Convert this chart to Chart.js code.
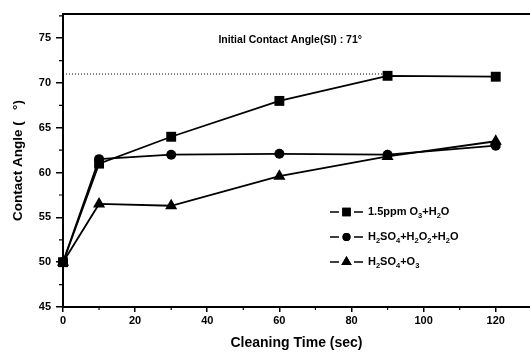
<!DOCTYPE html>
<html lang="en">
<head>
  <meta charset="UTF-8" />
  <title>Contact Angle vs Cleaning Time</title>
  <script src="https://cdn.jsdelivr.net/npm/chart.js"></script>
  <style>
    html, body { margin: 0; padding: 0; background: #fff; }
    #wrap { width: 530px; height: 356px; position: relative; }
  </style>
</head>
<body>
<div id="wrap"><canvas id="angleChart" width="530" height="356"></canvas></div>
<script>
// cleaning time (sec)
const times = [0, 10, 30, 60, 90, 120];
const ozoneWater = [50, 61, 64, 68, 70.8, 70.7];
const piranha = [50, 61.5, 62, 62.1, 62, 63];
const sulfuricOzone = [50, 56.5, 56.3, 59.6, 61.8, 63.5];
// initial contact angle reference line
const refX = [0, 90];
const refY = [71, 71];

const xTicks = [0, 20, 40, 60, 80, 100, 120];
const yTicks = [45, 50, 55, 60, 65, 70, 75];
const xMinor = [10, 30, 50, 70, 90, 110];
const yMinor = [47.5, 52.5, 57.5, 62.5, 67.5, 72.5, 77.5];

const note = "Initial Contact Angle(SI) : 71°";
// legend texts, split into normal / subscript pieces
const legendLabels = [
  [["1.5ppm O", 0], ["3", 1], ["+H", 0], ["2", 1], ["O", 0]],
  [["H", 0], ["2", 1], ["SO", 0], ["4", 1], ["+H", 0], ["2", 1], ["O", 0], ["2", 1], ["+H", 0], ["2", 1], ["O", 0]],
  [["H", 0], ["2", 1], ["SO", 0], ["4", 1], ["+O", 0], ["3", 1]]
];
const legendMarkers = ["rect", "circle", "triangle"];
const markerSizes = [7, 5, 7];

const FONT = "'Liberation Sans', Arial, sans-serif";
const pts = ys => times.map((t, i) => ({ x: t, y: ys[i] }));

const extras = {
  id: "extras",
  afterDraw(chart) {
    const ctx = chart.ctx, a = chart.chartArea;
    const xs = chart.scales.x, ys = chart.scales.y;
    ctx.save();
    ctx.strokeStyle = "#000";
    // top frame line
    ctx.lineWidth = 2;
    ctx.beginPath();
    ctx.moveTo(a.left, a.top);
    ctx.lineTo(chart.width, a.top);
    ctx.stroke();
    // minor ticks
    ctx.lineWidth = 1.2;
    ctx.beginPath();
    xMinor.forEach(v => {
      const px = xs.getPixelForValue(v);
      ctx.moveTo(px, a.bottom); ctx.lineTo(px, a.bottom + 3);
    });
    yMinor.forEach(v => {
      const py = ys.getPixelForValue(v);
      if (py < a.top) return;
      ctx.moveTo(a.left, py); ctx.lineTo(a.left - 4, py);
    });
    ctx.stroke();
    // note text
    ctx.fillStyle = "#000";
    ctx.font = "bold 10.5px " + FONT;
    ctx.textAlign = "center";
    ctx.textBaseline = "middle";
    ctx.fillText(note, xs.getPixelForValue(63), ys.getPixelForValue(74.8));
    // legend
    const lx = 330, ly0 = 212, step = 25;
    legendLabels.forEach((parts, i) => {
      const y = ly0 + i * step;
      ctx.lineWidth = 1.6;
      ctx.beginPath();
      ctx.moveTo(lx, y); ctx.lineTo(lx + 9, y);
      ctx.moveTo(lx + 24, y); ctx.lineTo(lx + 33, y);
      ctx.stroke();
      Chart.helpers.drawPoint(ctx, { pointStyle: legendMarkers[i], radius: markerSizes[i] - 1, borderWidth: 0 }, lx + 16.5, y);
      ctx.fill();
      let tx = lx + 38;
      ctx.textAlign = "left";
      ctx.textBaseline = "middle";
      parts.forEach(([txt, sub]) => {
        ctx.font = (sub ? "bold 7.5px " : "bold 11px ") + FONT;
        ctx.fillText(txt, tx, sub ? y + 4 : y);
        tx += ctx.measureText(txt).width;
      });
    });
    ctx.restore();
  }
};

const series = (label, ys, style, r) => ({
  label, data: pts(ys), pointStyle: style, pointRadius: r, showLine: true,
  borderColor: "#000", backgroundColor: "#000", borderWidth: 1.8,
  pointBorderWidth: 0, tension: 0, clip: false
});

new Chart(document.getElementById("angleChart"), {
  type: "scatter",
  data: {
    datasets: [
      {
        label: "initial", data: refX.map((x, i) => ({ x, y: refY[i] })),
        showLine: true, borderColor: "#000", borderWidth: 1, borderDash: [1, 2],
        pointRadius: 0
      },
      series("1.5ppm O3+H2O", ozoneWater, "rect", markerSizes[0]),
      series("H2SO4+H2O2+H2O", piranha, "circle", markerSizes[1]),
      series("H2SO4+O3", sulfuricOzone, "triangle", markerSizes[2])
    ]
  },
  options: {
    responsive: false,
    animation: false,
    events: [],
    layout: { autoPadding: false, padding: { top: 14, right: 0, left: 0, bottom: 0 } },
    plugins: { legend: { display: false }, tooltip: { enabled: false } },
    scales: {
      x: {
        type: "linear", min: 0, max: 129.5,
        afterFit: s => { s.height = 49; s.paddingLeft = 0; s.paddingRight = 0; },
        afterBuildTicks: s => { s.ticks = xTicks.map(v => ({ value: v })); },
        grid: { drawOnChartArea: false, color: "#000", lineWidth: 1.5, tickLength: 5 },
        border: { color: "#000", width: 2 },
        ticks: { color: "#000", font: { family: FONT, size: 11, weight: "bold" }, padding: 2, maxRotation: 0 },
        title: { display: true, text: "Cleaning Time (sec)", color: "#000", font: { family: FONT, size: 14, weight: "bold" }, padding: { top: 5 } }
      },
      y: {
        min: 45, max: 77.7,
        afterFit: s => { s.width = 63; s.paddingTop = 0; s.paddingBottom = 0; },
        afterBuildTicks: s => { s.ticks = yTicks.map(v => ({ value: v })); },
        grid: { drawOnChartArea: false, color: "#000", lineWidth: 1.5, tickLength: 7 },
        border: { color: "#000", width: 2 },
        ticks: { color: "#000", font: { family: FONT, size: 11, weight: "bold" }, padding: 5 },
        title: { display: true, text: "Contact Angle (   °)", color: "#000", font: { family: FONT, size: 13.5, weight: "bold" }, padding: { top: 10, bottom: 0 } }
      }
    }
  },
  plugins: [extras]
});
</script>
</body>
</html>
